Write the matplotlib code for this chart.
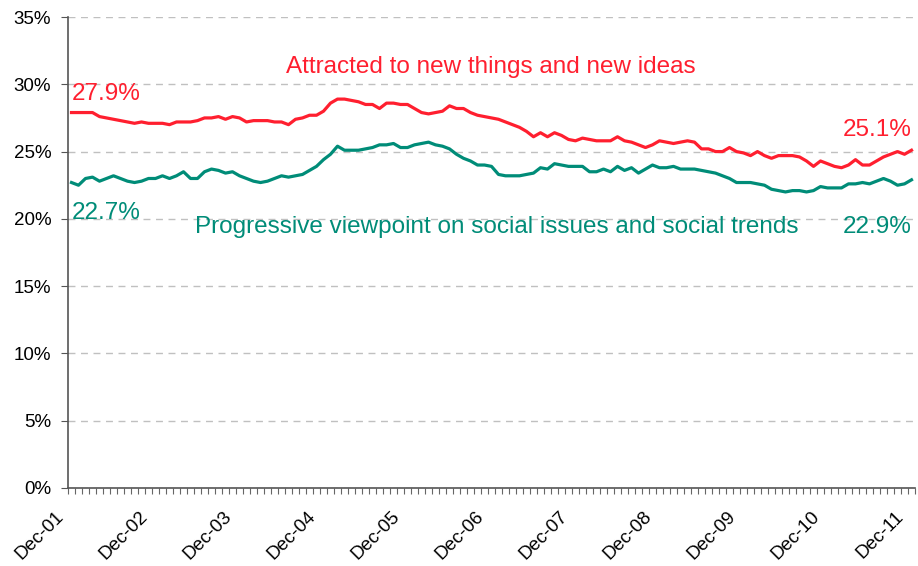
import numpy as np
import matplotlib
matplotlib.use("Agg")
import matplotlib.pyplot as plt
import matplotlib.transforms as mtransforms

plt.rcParams['font.family'] = ['Liberation Sans', 'DejaVu Sans']

# monthly readings, Dec 2001 .. Dec 2011
years = ['Dec-01', 'Dec-02', 'Dec-03', 'Dec-04', 'Dec-05', 'Dec-06',
         'Dec-07', 'Dec-08', 'Dec-09', 'Dec-10', 'Dec-11']

attracted = [
    27.9, 27.9, 27.9, 27.9, 27.6, 27.5, 27.4, 27.3, 27.2, 27.1,
    27.2, 27.1, 27.1, 27.1, 27.0, 27.2, 27.2, 27.2, 27.3, 27.5,
    27.5, 27.6, 27.4, 27.6, 27.5, 27.2, 27.3, 27.3, 27.3, 27.2,
    27.2, 27.0, 27.4, 27.5, 27.7, 27.7, 28.0, 28.6, 28.9, 28.9,
    28.8, 28.7, 28.5, 28.5, 28.2, 28.6, 28.6, 28.5, 28.5, 28.2,
    27.9, 27.8, 27.9, 28.0, 28.4, 28.2, 28.2, 27.9, 27.7, 27.6,
    27.5, 27.4, 27.2, 27.0, 26.8, 26.5, 26.1, 26.4, 26.1, 26.4,
    26.2, 25.9, 25.8, 26.0, 25.9, 25.8, 25.8, 25.8, 26.1, 25.8,
    25.7, 25.5, 25.3, 25.5, 25.8, 25.7, 25.6, 25.7, 25.8, 25.7,
    25.2, 25.2, 25.0, 25.0, 25.3, 25.0, 24.9, 24.7, 25.0, 24.7,
    24.5, 24.7, 24.7, 24.7, 24.6, 24.3, 23.9, 24.3, 24.1, 23.9,
    23.8, 24.0, 24.4, 24.0, 24.0, 24.3, 24.6, 24.8, 25.0, 24.8,
    25.1,
]

progressive = [
    22.7, 22.5, 23.0, 23.1, 22.8, 23.0, 23.2, 23.0, 22.8, 22.7,
    22.8, 23.0, 23.0, 23.2, 23.0, 23.2, 23.5, 23.0, 23.0, 23.5,
    23.7, 23.6, 23.4, 23.5, 23.2, 23.0, 22.8, 22.7, 22.8, 23.0,
    23.2, 23.1, 23.2, 23.3, 23.6, 23.9, 24.4, 24.8, 25.4, 25.1,
    25.1, 25.1, 25.2, 25.3, 25.5, 25.5, 25.6, 25.3, 25.3, 25.5,
    25.6, 25.7, 25.5, 25.4, 25.2, 24.8, 24.5, 24.3, 24.0, 24.0,
    23.9, 23.3, 23.2, 23.2, 23.2, 23.3, 23.4, 23.8, 23.7, 24.1,
    24.0, 23.9, 23.9, 23.9, 23.5, 23.5, 23.7, 23.5, 23.9, 23.6,
    23.8, 23.4, 23.7, 24.0, 23.8, 23.8, 23.9, 23.7, 23.7, 23.7,
    23.6, 23.5, 23.4, 23.2, 23.0, 22.7, 22.7, 22.7, 22.6, 22.5,
    22.2, 22.1, 22.0, 22.1, 22.1, 22.0, 22.1, 22.4, 22.3, 22.3,
    22.3, 22.6, 22.6, 22.7, 22.6, 22.8, 23.0, 22.8, 22.5, 22.6,
    22.9,
]

RED = '#ff1f2f'
TEAL = '#008c78'

x = np.arange(len(attracted))

fig = plt.figure(figsize=(9.18, 5.66), dpi=100)
ax = fig.add_axes([68 / 918, 1 - 488 / 566, 847 / 918, 471 / 566])

ax.plot(x, attracted, color=RED, lw=2.3, solid_joinstyle='round')
ax.plot(x, progressive, color=TEAL, lw=2.3, solid_joinstyle='round')

ax.set_xlim(-0.5, len(x) - 0.5)
ax.set_ylim(0, 35)
ax.set_yticks(np.arange(0, 36, 5))
ax.set_yticklabels([f'{v}%' for v in range(0, 36, 5)], fontsize=13.5)
ax.yaxis.grid(True, color='#c0c0c0', ls=(0, (5, 4)), lw=1)
ax.set_axisbelow(True)

# month ticks between categories, year labels drawn as slanted text
ax.set_xticks(np.arange(-0.5, len(x), 1))
ax.set_xticklabels([])
ax.tick_params(axis='x', length=4, color='#666666', width=0.8)
ax.tick_params(axis='y', length=5, color='#555555', width=0.8, pad=7)

shift = mtransforms.ScaledTranslation(-16 / 100, -20 / 100, fig.dpi_scale_trans)
for i, name in enumerate(years):
    ax.text(x[i * 12], 0, name, rotation=45, ha='right', va='top',
            rotation_mode='anchor', fontsize=13.5,
            transform=ax.get_xaxis_transform() + shift, clip_on=False)

for side in ('top', 'right'):
    ax.spines[side].set_visible(False)
for side in ('left', 'bottom'):
    ax.spines[side].set_color('#555555')
    ax.spines[side].set_linewidth(1.2)

# series labels and end values
fs = 17.5
ax.text(59.9, 31.3, 'Attracted to new things and new ideas', color=RED,
        fontsize=fs, ha='center', va='center')
ax.text(0, 29.3, f'{attracted[0]}%', color=RED, fontsize=fs, ha='left', va='center')
ax.text(x[-1], 26.6, f'{attracted[-1]}%', color=RED, fontsize=fs, ha='right', va='center')
ax.text(0, 20.4, f'{progressive[0]}%', color=TEAL, fontsize=fs, ha='left', va='center')
ax.text(60.8, 19.4, 'Progressive viewpoint on social issues and social trends', color=TEAL,
        fontsize=fs, ha='center', va='center')
ax.text(x[-1], 19.4, f'{progressive[-1]}%', color=TEAL, fontsize=fs, ha='right', va='center')

fig.savefig('out.png', dpi=100)
